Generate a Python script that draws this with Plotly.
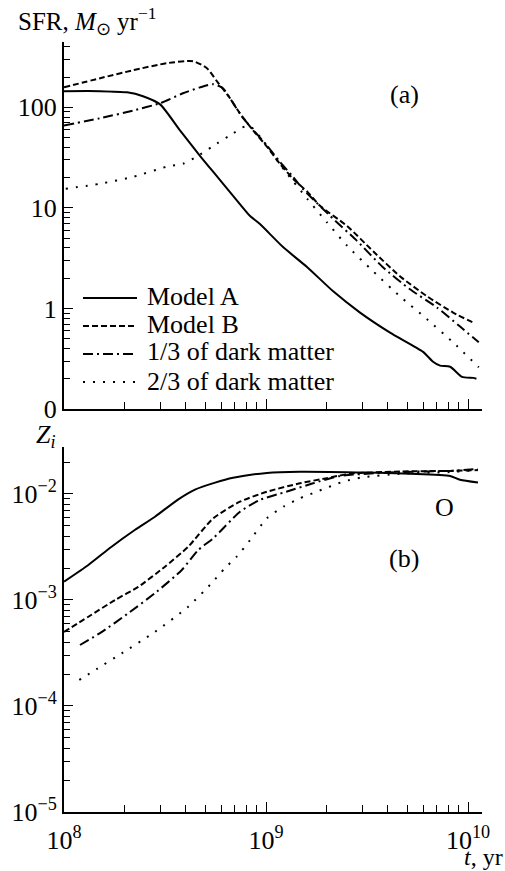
import plotly.graph_objects as go

# ---------------- panel (a): star formation rate, M_sun / yr ----------------
t_sfr_a = [1.0e8, 1.51e8, 2.05e8, 2.46e8, 2.99e8, 3.75e8, 4.71e8, 5.47e8, 6.87e8,
           8.34e8, 9.33e8, 1.21e9, 1.60e9, 2.15e9, 2.92e9, 4.11e9, 5.99e9, 6.71e9,
           7.27e9, 8.15e9, 9.33e9, 1.06e10, 1.10e10]
sfr_a = [145, 145, 141, 129, 107, 59, 33, 22.9, 13.2,
         8.3, 6.9, 4.1, 2.57, 1.48, 0.91, 0.575, 0.37, 0.295,
         0.27, 0.263, 0.209, 0.204, 0.200]

t_sfr_b = [1.0e8, 1.51e8, 2.2e8, 3.23e8, 4.35e8, 5.1e8, 5.71e8, 6.64e8, 7.43e8,
           8.63e8, 1.01e9, 1.17e9, 1.36e9, 1.60e9, 1.85e9, 2.52e9, 3.39e9, 4.6e9,
           6.27e9, 8.43e9, 1.08e10]
sfr_b = [158, 195, 234, 275, 288, 245, 182, 123, 87,
         59, 40.7, 27.5, 19.5, 14.5, 10.5, 6.6, 3.7, 2.09,
         1.32, 0.91, 0.71]

t_sfr_dm13 = [1.0e8, 1.51e8, 2.2e8, 2.99e8, 3.88e8, 4.71e8, 5.47e8, 6.12e8, 6.87e8,
              7.6e8, 8.63e8, 1.01e9, 1.17e9, 1.36e9, 1.52e9, 2.08e9, 2.82e9, 3.79e9,
              5.16e9, 7.03e9, 9.13e9, 1.13e10]
sfr_dm13 = [66, 78, 93, 110, 138, 158, 170, 155, 110,
            81, 60, 41.7, 28.8, 20.4, 15.5, 8.3, 4.7, 2.57,
            1.55, 1.02, 0.66, 0.46]

t_sfr_dm23 = [1.02e8, 1.51e8, 2.2e8, 3.23e8, 3.88e8, 4.71e8, 5.71e8, 6.87e8, 7.6e8,
              8.34e8, 9.33e8, 1.05e9, 1.24e9, 1.60e9, 2.0e9, 2.52e9, 3.39e9, 4.6e9,
              6.27e9, 8.43e9, 1.13e10]
sfr_dm23 = [15.5, 17.4, 20.4, 25.7, 27.5, 33.9, 43.7, 55, 63,
            65, 51, 37, 23.4, 12.3, 7.2, 4.2, 2.34, 1.32,
            0.78, 0.46, 0.26]

# ---------------- panel (b): oxygen abundance Z_i ----------------
t_z_a = [1.0e8, 1.32e8, 1.72e8, 2.24e8, 2.82e8, 3.68e8, 4.45e8, 5.6e8, 6.87e8,
         1.01e9, 1.47e9, 3.16e9, 5.16e9, 8.15e9, 9.13e9, 1.12e10]
z_a = [1.49e-3, 2.14e-3, 3.18e-3, 4.57e-3, 6.1e-3, 8.9e-3, 1.10e-2, 1.28e-2, 1.42e-2,
       1.58e-2, 1.62e-2, 1.59e-2, 1.55e-2, 1.48e-2, 1.36e-2, 1.28e-2]

t_z_b = [1.0e8, 1.32e8, 1.79e8, 2.33e8, 3.16e8, 4.12e8, 5.48e8, 7.43e8, 1.01e9,
         1.47e9, 2.0e9, 2.6e9, 4.6e9, 8.15e9, 1.12e10]
z_b = [5.0e-4, 6.95e-4, 1.0e-3, 1.33e-3, 2.06e-3, 3.18e-3, 5.9e-3, 8.45e-3, 1.05e-2,
       1.26e-2, 1.41e-2, 1.55e-2, 1.63e-2, 1.65e-2, 1.68e-2]

t_z_dm13 = [1.20e8, 1.54e8, 2.08e8, 2.82e8, 3.83e8, 4.62e8, 5.48e8, 7.43e8, 9.33e8,
            1.26e9, 1.71e9, 2.32e9, 4.6e9, 8.15e9, 1.12e10]
z_dm13 = [3.76e-4, 5.0e-4, 7.5e-4, 1.16e-3, 1.92e-3, 2.96e-3, 3.82e-3, 6.8e-3, 8.78e-3,
          1.05e-2, 1.26e-2, 1.48e-2, 1.61e-2, 1.65e-2, 1.72e-2]

t_z_dm23 = [1.19e8, 1.45e8, 1.93e8, 2.82e8, 4.12e8, 5.38e8, 6.26e8, 7.16e8, 8.34e8,
            1.01e9, 1.22e9, 1.47e9, 1.78e9, 2.42e9, 3.03e9, 4.6e9, 8.15e9, 1.12e10]
z_dm23 = [1.76e-4, 2.23e-4, 3.14e-4, 5.0e-4, 8.65e-4, 1.44e-3, 2.0e-3, 2.56e-3, 3.68e-3,
          5.9e-3, 7.6e-3, 9.1e-3, 1.05e-2, 1.31e-2, 1.44e-2, 1.55e-2, 1.61e-2, 1.68e-2]

series_names = ["Model A", "Model B", "1/3 of dark matter", "2/3 of dark matter"]
line_dashes = ["solid", "6px,3px", "10px,4px,2px,4px", "2px,8px"]

x_tickvals = [1e8, 1e9, 1e10]
x_ticktext = ["10<sup>8</sup>", "10<sup>9</sup>", "10<sup>10</sup>"]
sfr_tickvals = [0.1, 1, 10, 100]
sfr_ticktext = ["0", "1", "10", "100"]
z_tickvals = [1e-5, 1e-4, 1e-3, 1e-2]
z_ticktext = ["10<sup>\u22125</sup>", "10<sup>\u22124</sup>",
              "10<sup>\u22123</sup>", "10<sup>\u22122</sup>"]

W, H = 505, 871
FONT = "Liberation Serif, Times New Roman, serif"
FS = 26


def px_x(p):
    return p / W


def px_y(p):
    return 1 - p / H


def minor_vals(lo, hi):
    return [m * 10.0 ** e for e in range(lo, hi) for m in range(2, 10)]


fig = go.Figure()

sfr_sets = [(t_sfr_a, sfr_a), (t_sfr_b, sfr_b), (t_sfr_dm13, sfr_dm13), (t_sfr_dm23, sfr_dm23)]
z_sets = [(t_z_a, z_a), (t_z_b, z_b), (t_z_dm13, z_dm13), (t_z_dm23, z_dm23)]

for (tx, ty), name, dash in zip(sfr_sets, series_names, line_dashes):
    fig.add_trace(go.Scatter(x=tx, y=ty, mode="lines", name=name, showlegend=False,
                             line=dict(color="black", width=2, dash=dash,
                                       shape="spline", smoothing=0.6),
                             xaxis="x", yaxis="y"))
for (tx, ty), name, dash in zip(z_sets, series_names, line_dashes):
    fig.add_trace(go.Scatter(x=tx, y=ty, mode="lines", name=name, showlegend=False,
                             line=dict(color="black", width=2, dash=dash,
                                       shape="spline", smoothing=0.6),
                             xaxis="x2", yaxis="y2"))

axis_common = dict(type="log", showgrid=False, zeroline=False, showline=True,
                   automargin=False,
                   linecolor="black", linewidth=2, ticks="inside", tickcolor="black",
                   tickwidth=1.4, mirror=False,
                   tickfont=dict(family=FONT, size=FS, color="black"))


def minor(lo, hi, length):
    return dict(tickmode="array", tickvals=minor_vals(lo, hi), ticks="inside",
                ticklen=length, tickwidth=1.4, tickcolor="black", showgrid=False)


x_dom = [px_x(64), px_x(482)]
x_range = [8, 10.069]

fig.update_layout(
    template="none",
    width=W, height=H, margin=dict(l=0, r=0, t=0, b=0, autoexpand=False),
    paper_bgcolor="white", plot_bgcolor="white",
    showlegend=False,
    xaxis=dict(axis_common, domain=x_dom, range=x_range, anchor="y",
               tickmode="array", tickvals=x_tickvals, showticklabels=False, ticklen=10,
               minor=minor(8, 10, 7)),
    yaxis=dict(axis_common, domain=[px_y(409), px_y(42)], range=[-1, 2.65], anchor="x",
               tickmode="array", tickvals=sfr_tickvals, ticktext=sfr_ticktext, ticklen=9,
               ticklabelstandoff=0, minor=minor(-1, 3, 6)),
    xaxis2=dict(axis_common, domain=x_dom, range=x_range, anchor="y2",
                tickmode="array", tickvals=x_tickvals, ticktext=x_ticktext, ticklen=10,
                ticklabelstandoff=4, minor=minor(8, 10, 7)),
    yaxis2=dict(axis_common, domain=[px_y(812), px_y(447)], range=[-5, -1.557], anchor="x2",
                tickmode="array", tickvals=z_tickvals, ticktext=z_ticktext, ticklen=9,
                ticklabelstandoff=0, minor=minor(-5, -1, 6)),
)

# legend drawn inside panel (a)
legend_text_y = [297, 324, 352, 381]
legend_line_y = [298, 326, 354, 382]
for name, dash, ty, ly in zip(series_names, line_dashes, legend_text_y, legend_line_y):
    fig.add_shape(type="line", xref="paper", yref="paper",
                  x0=px_x(83), x1=px_x(137), y0=px_y(ly), y1=px_y(ly),
                  line=dict(color="black", width=2, dash=dash))
    fig.add_annotation(text=name, xref="paper", yref="paper", x=px_x(145), y=px_y(ty),
                       xanchor="left", yanchor="middle", showarrow=False,
                       font=dict(family=FONT, size=FS, color="black"))

labels = [
    ("SFR, <i>M</i><sub>\u2299</sub> yr<sup>\u22121</sup>", 17, 21, 25, "left"),
    ("(a)", 404, 95, FS, "center"),
    ("<i>Z<sub>i</sub></i>", 35, 436, FS, "left"),
    ("O", 444, 507, FS, "center"),
    ("(b)", 404, 558, FS, "center"),
    ("<i>t</i>, yr", 463, 857, 24, "left"),
]
for text, x, y, size, anchor in labels:
    fig.add_annotation(text=text, xref="paper", yref="paper", x=px_x(x), y=px_y(y),
                       xanchor=anchor, yanchor="middle", showarrow=False,
                       borderpad=0,
                       font=dict(family=FONT, size=size, color="black"))

fig.write_html("out.html")
